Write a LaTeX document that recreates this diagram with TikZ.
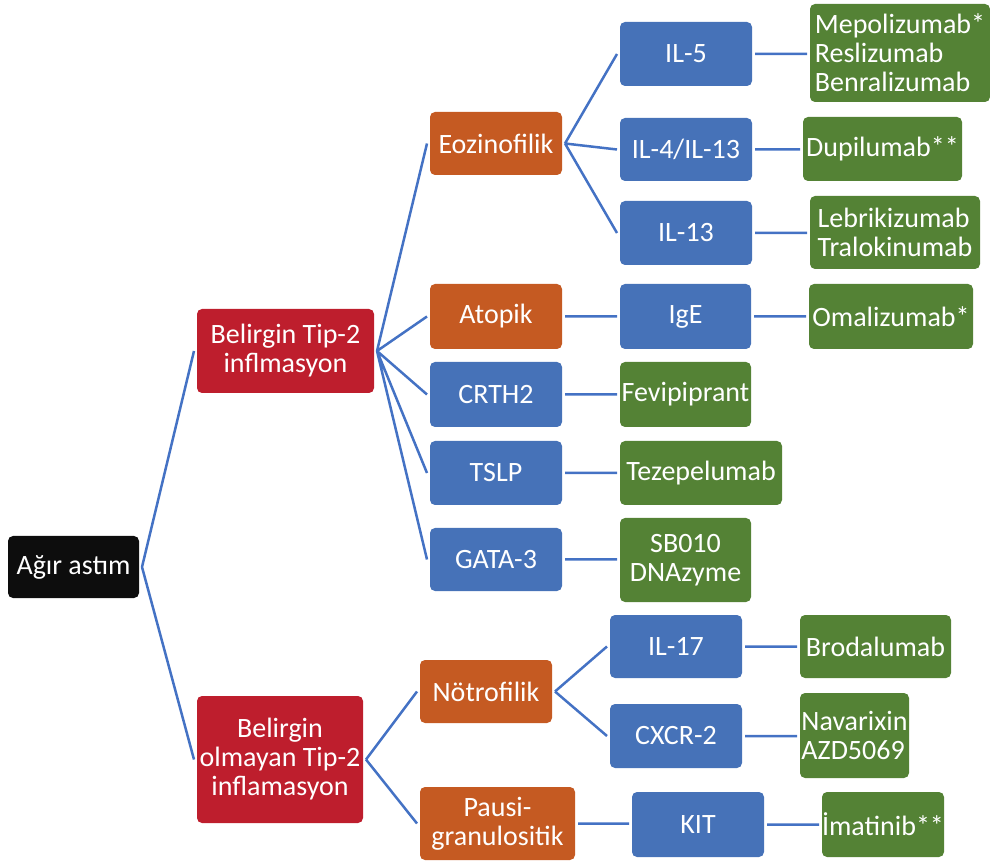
\documentclass[tikz,border=0pt]{standalone}
\usepackage{fontspec}
\setmainfont{Carlito}
\definecolor{rootcol}{HTML}{0D0D0D}
\definecolor{redcol}{HTML}{BE1E2D}
\definecolor{orangecol}{HTML}{C55A22}
\definecolor{bluecol}{HTML}{4672B8}
\definecolor{greencol}{HTML}{548235}
\definecolor{linecol}{HTML}{4472C4}
\tikzset{
	boxsize/.style 2 args = {minimum width=#1*0.5pt, minimum height=#2*0.5pt},
	rootbox/.style = {fill=rootcol},
	mainbox/.style = {fill=redcol},
	subtype/.style = {fill=orangecol},
	targetbox/.style = {fill=bluecol},
	agent/.style = {fill=greencol}
}

\begin{document}
\begin{tikzpicture} [x=0.5pt, y=-0.5pt, every node/.style = {shape=rectangle, rounded corners=2.5pt, inner sep=0pt, outer sep=1.5pt, text=white, align=center, font=\fontsize{14}{14.5}\selectfont}]
			\useasboundingbox (0,0) rectangle (990,865);
			\node [rootbox, boxsize={131}{62}] (root) at (73.5,567) {Ağır astım};
			\node [mainbox, boxsize={177}{84}] (tip2) at (285.5,351) {Belirgin Tip-2\\inflmasyon};
			\node [mainbox, boxsize={166}{127}] (nontip2) at (280,759.5) {Belirgin\\olmayan Tip-2\\inflamasyon};
			
			\node [subtype, boxsize={132}{63}] (eoz) at (496,143.5) {Eozinofilik};
			\node [subtype, boxsize={132}{65}] (atopik) at (496,316.5) {Atopik};
			\node [targetbox, boxsize={132}{65}] (crth) at (496,394.5) {CRTH2};
			\node [targetbox, boxsize={132}{64}] (tslp) at (496,473) {TSLP};
			\node [targetbox, boxsize={132}{63}] (gata) at (496,559.5) {GATA-3};
			\node [subtype, boxsize={132}{63}] (notro) at (486,691.5) {Nötrofilik};
			\node [subtype, boxsize={155}{73}] (pausi) at (497.5,823.5) {Pausi-\\granulositik};
			
			\node [targetbox, boxsize={132}{64}] (il5) at (686,54) {IL-5};
			\node [targetbox, boxsize={132}{63}] (il4) at (686,149.5) {IL-4/IL-13};
			\node [targetbox, boxsize={132}{64}] (il13) at (686,233) {IL-13};
			\node [targetbox, boxsize={131}{65}] (ige) at (685.5,316.5) {IgE};
			\node [agent, boxsize={131}{65}] (fevi) at (685.5,394.5) {Fevipiprant};
			\node [agent, boxsize={162}{64}] (teze) at (701,473) {Tezepelumab};
			\node [agent, boxsize={131}{84}] (sb) at (685.5,560) {SB010\\DNAzyme};
			\node [targetbox, boxsize={132}{63}] (il17) at (676,646.5) {IL-17};
			\node [targetbox, boxsize={132}{64}] (cxcr) at (676,736) {CXCR-2};
			\node [targetbox, boxsize={132}{65}] (kit) at (698,824.5) {KIT};
			
			\node [agent, boxsize={180}{98}, align=left] (mepo) at (900,53) {Mepolizumab*\\Reslizumab\\Benralizumab};
			\node [agent, boxsize={159}{64}] (dupi) at (882.5,149) {Dupilumab**};
			\node [agent, boxsize={170}{73}, align=left] (lebri) at (895,232.5) {Lebrikizumab\\Tralokinumab};
			\node [agent, boxsize={164}{65}] (omali) at (891,316.5) {Omalizumab*};
			\node [agent, boxsize={151}{63}] (broda) at (875.5,646.5) {Brodalumab};
			\node [agent, boxsize={109}{85}, align=left] (nava) at (854.5,735.5) {Navarixin\\AZD5069};
			\node [agent, boxsize={122}{65}] (imat) at (883,824.5) {İmatinib**};
			
			\path [draw, line width=1.25pt, linecol]
			(root.east) -- (tip2.west)
			(root.east) -- (nontip2.west)
			(tip2.east) -- (eoz.west)
			(tip2.east) -- (atopik.west)
			(tip2.east) -- (crth.west)
			(tip2.east) -- (tslp.west)
			(tip2.east) -- (gata.west)
			(nontip2.east) -- (notro.west)
			(nontip2.east) -- (pausi.west)
			(eoz.east) -- (il5.west)
			(eoz.east) -- (il4.west)
			(eoz.east) -- (il13.west)
			(notro.east) -- (il17.west)
			(notro.east) -- (cxcr.west)
			(atopik) -- (ige)
			(crth) -- (fevi)
			(tslp) -- (tslp -| teze.west)
			(gata) -- (gata -| sb.west)
			(pausi) -- (pausi -| kit.west)
			(il5) -- (il5 -| mepo.west)
			(il4) -- (il4 -| dupi.west)
			(il13) -- (il13 -| lebri.west)
			(ige) -- (omali)
			(il17) -- (broda)
			(cxcr) -- (cxcr -| nava.west)
			(kit) -- (imat);
		\end{tikzpicture}
\end{document}
